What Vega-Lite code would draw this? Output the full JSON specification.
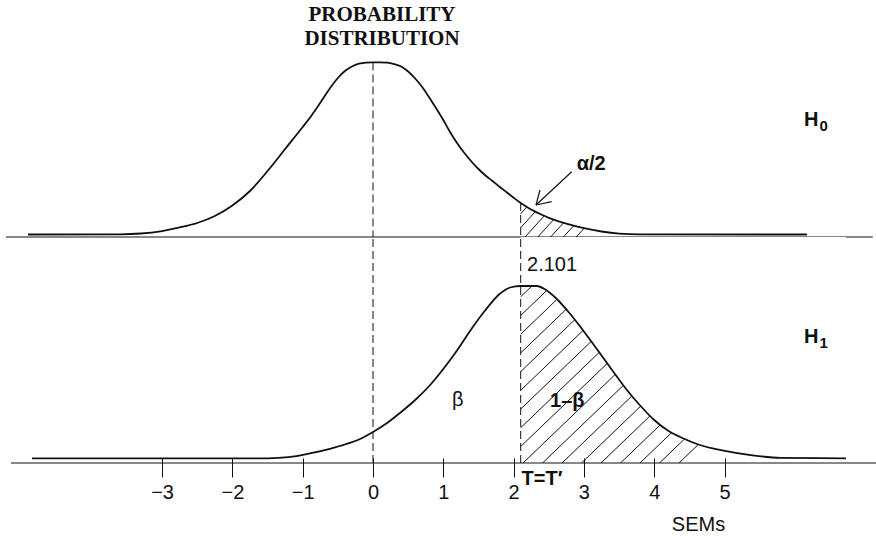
{
  "$schema": "https://vega.github.io/schema/vega-lite/v6.json",
  "padding": 0,
  "spacing": 0,
  "bounds": "flush",
  "background": "white",
  "config": {
    "view": {"stroke": null},
    "text": {"font": "Liberation Sans", "color": "#111", "baseline": "alphabetic", "align": "left"}
  },
  "datasets": {
    "h0Curve": [
      {"x": -4.907, "y": 0.0057}, {"x": -3.6, "y": 0.0062}, {"x": -3.3, "y": 0.008},
      {"x": -3.0, "y": 0.0137}, {"x": -2.75, "y": 0.0218}, {"x": -2.5, "y": 0.0321},
      {"x": -2.25, "y": 0.0481}, {"x": -2.0, "y": 0.0722}, {"x": -1.75, "y": 0.1054},
      {"x": -1.5, "y": 0.1512}, {"x": -1.25, "y": 0.2016}, {"x": -1.0, "y": 0.252},
      {"x": -0.9, "y": 0.2726}, {"x": -0.8, "y": 0.2955}, {"x": -0.7, "y": 0.3196},
      {"x": -0.6, "y": 0.3436}, {"x": -0.5, "y": 0.3643}, {"x": -0.4, "y": 0.3803},
      {"x": -0.3, "y": 0.3906}, {"x": -0.2, "y": 0.397}, {"x": -0.1, "y": 0.3995},
      {"x": 0.0, "y": 0.4}, {"x": 0.1, "y": 0.4}, {"x": 0.2, "y": 0.3993},
      {"x": 0.3, "y": 0.3963}, {"x": 0.4, "y": 0.3906}, {"x": 0.5, "y": 0.3792},
      {"x": 0.6, "y": 0.3631}, {"x": 0.7, "y": 0.3436}, {"x": 0.8, "y": 0.3196},
      {"x": 0.9, "y": 0.2944}, {"x": 1.0, "y": 0.268}, {"x": 1.1, "y": 0.2394},
      {"x": 1.2, "y": 0.2142}, {"x": 1.3, "y": 0.1924}, {"x": 1.4, "y": 0.173},
      {"x": 1.5, "y": 0.1558}, {"x": 1.6, "y": 0.1409}, {"x": 1.7, "y": 0.1283},
      {"x": 1.8, "y": 0.1152}, {"x": 1.9, "y": 0.1026}, {"x": 2.0, "y": 0.09},
      {"x": 2.101, "y": 0.0779}, {"x": 2.2, "y": 0.0676}, {"x": 2.3, "y": 0.0586},
      {"x": 2.4, "y": 0.0509}, {"x": 2.5, "y": 0.044}, {"x": 2.75, "y": 0.0305},
      {"x": 3.0, "y": 0.0202}, {"x": 3.25, "y": 0.0126}, {"x": 3.5, "y": 0.0078},
      {"x": 3.8, "y": 0.006}, {"x": 6.174, "y": 0.0057}
    ],
    "h1Curve": [
      {"x": -4.851, "y": 0.0105}, {"x": -1.5, "y": 0.0108}, {"x": -1.2, "y": 0.0133},
      {"x": -0.9, "y": 0.0218}, {"x": -0.6, "y": 0.0332}, {"x": -0.4, "y": 0.0424},
      {"x": -0.2, "y": 0.0538}, {"x": 0.0, "y": 0.071}, {"x": 0.2, "y": 0.0916},
      {"x": 0.4, "y": 0.1168}, {"x": 0.6, "y": 0.1443}, {"x": 0.8, "y": 0.1764},
      {"x": 1.0, "y": 0.2153}, {"x": 1.2, "y": 0.2589}, {"x": 1.4, "y": 0.307},
      {"x": 1.6, "y": 0.3505}, {"x": 1.8, "y": 0.3872}, {"x": 1.95, "y": 0.4021},
      {"x": 2.101, "y": 0.4055}, {"x": 2.33, "y": 0.4055}, {"x": 2.45, "y": 0.3975},
      {"x": 2.6, "y": 0.378}, {"x": 2.8, "y": 0.3425}, {"x": 3.0, "y": 0.3013},
      {"x": 3.2, "y": 0.2577}, {"x": 3.4, "y": 0.2131}, {"x": 3.6, "y": 0.1695},
      {"x": 3.8, "y": 0.1317}, {"x": 4.0, "y": 0.0985}, {"x": 4.2, "y": 0.0738},
      {"x": 4.4, "y": 0.0573}, {"x": 4.65, "y": 0.0412}, {"x": 4.95, "y": 0.0293},
      {"x": 5.4, "y": 0.0174}, {"x": 5.8, "y": 0.0119}, {"x": 6.728, "y": 0.0108}
    ],
    "hatchAlpha": [
      {"x": 2.101, "y": 0.0534, "x2": 2.27, "y2": 0.0833},
      {"x": 2.101, "y": 0.0212, "x2": 2.4, "y2": 0.0742},
      {"x": 2.1622, "y": 0, "x2": 2.52, "y2": 0.0634},
      {"x": 2.3442, "y": 0, "x2": 2.65, "y2": 0.0542},
      {"x": 2.5263, "y": 0, "x2": 2.8, "y2": 0.0485},
      {"x": 2.7084, "y": 0, "x2": 2.94, "y2": 0.041},
      {"x": 2.8905, "y": 0, "x2": 3.09, "y2": 0.0354}
    ],
    "hatchPower": [
      {"x": 2.101, "y": 0.3809, "x2": 2.38, "y2": 0.424},
      {"x": 2.101, "y": 0.338, "x2": 2.59, "y2": 0.4136},
      {"x": 2.101, "y": 0.2951, "x2": 2.74, "y2": 0.3939},
      {"x": 2.101, "y": 0.2522, "x2": 2.87, "y2": 0.3711},
      {"x": 2.101, "y": 0.2094, "x2": 2.99, "y2": 0.3468},
      {"x": 2.101, "y": 0.1665, "x2": 3.11, "y2": 0.3225},
      {"x": 2.101, "y": 0.1236, "x2": 3.23, "y2": 0.2981},
      {"x": 2.101, "y": 0.0807, "x2": 3.34, "y2": 0.2723},
      {"x": 2.101, "y": 0.0378, "x2": 3.45, "y2": 0.2464},
      {"x": 2.1337, "y": 0, "x2": 3.57, "y2": 0.2221},
      {"x": 2.4111, "y": 0, "x2": 3.68, "y2": 0.1962},
      {"x": 2.6885, "y": 0, "x2": 3.8, "y2": 0.1718},
      {"x": 2.9658, "y": 0, "x2": 3.93, "y2": 0.1491},
      {"x": 3.2432, "y": 0, "x2": 4.06, "y2": 0.1263},
      {"x": 3.5206, "y": 0, "x2": 4.21, "y2": 0.1066},
      {"x": 3.798, "y": 0, "x2": 4.37, "y2": 0.0884},
      {"x": 4.0754, "y": 0, "x2": 4.55, "y2": 0.0734},
      {"x": 4.3527, "y": 0, "x2": 4.75, "y2": 0.0614}
    ],
    "dashTop": [
      {"x": 0, "y": 0.4, "y2": 0},
      {"x": 2.101, "y": 0.0779, "y2": 0}
    ],
    "dashBottom": [
      {"x": 0, "y": 0, "y2": 0.5178},
      {"x": 2.101, "y": 0, "y2": 0.5178}
    ],
    "baselineTop": [{"x": -5.22, "x2": 7.11, "y": 0}],
    "baselineBottom": [{"x": -5.15, "x2": 7.155, "y": 0}],
    "arrow": [
      {"x": 2.826, "y": 0.1496, "x2": 2.319, "y2": 0.0733},
      {"x": 2.319, "y": 0.0733, "x2": 2.375, "y2": 0.1077},
      {"x": 2.319, "y": 0.0733, "x2": 2.542, "y2": 0.0809}
    ],
    "heading": [
      {"x": 0.128, "y": 0.4948, "text": "PROBABILITY"},
      {"x": 0.128, "y": 0.4399, "text": "DISTRIBUTION"}
    ],
    "topLetters": [{"x": 6.131, "y": 0.254, "text": "H"}],
    "topSubscript": [{"x": 6.35, "y": 0.2435, "text": "0"}],
    "alphaNote": [{"x": 2.898, "y": 0.1535, "text": "α/2"}],
    "bottomBold": [
      {"x": 6.131, "y": 0.2742, "text": "H"},
      {"x": 2.518, "y": 0.129, "text": "1–β"},
      {"x": 2.114, "y": -0.0504, "text": "T=T′"}
    ],
    "bottomSubscript": [{"x": 6.35, "y": 0.2635, "text": "1"}],
    "bottomPlain": [
      {"x": 2.191, "y": 0.4405, "text": "2.101"},
      {"x": 1.124, "y": 0.1306, "text": "β"}
    ]
  },
  "resolve": {"scale": {"x": "independent", "y": "independent"}},
  "vconcat": [
    {
      "width": 876,
      "height": 237,
      "encoding": {
        "x": {"field": "x", "type": "quantitative", "scale": {"domain": [-5.3058, 7.155], "nice": false, "zero": false}, "axis": null},
        "y": {"field": "y", "type": "quantitative", "scale": {"domain": [0, 0.543], "nice": false, "zero": false}, "axis": null}
      },
      "layer": [
        {
          "data": {"name": "hatchAlpha"},
          "mark": {"type": "rule", "color": "#111", "strokeWidth": 1, "clip": true},
          "encoding": {"x2": {"field": "x2"}, "y2": {"field": "y2"}}
        },
        {
          "data": {"name": "h0Curve"},
          "transform": [{"filter": "datum.x >= 2.101"}],
          "mark": {"type": "area", "orient": "vertical", "fill": "white", "interpolate": "monotone"},
          "encoding": {"y2": {"datum": 0.543}}
        },
        {
          "data": {"name": "h0Curve"},
          "mark": {"type": "line", "color": "#111", "strokeWidth": 1.8, "interpolate": "monotone"}
        },
        {
          "data": {"name": "dashTop"},
          "mark": {"type": "rule", "color": "#111", "strokeWidth": 1, "strokeDash": [8, 4]},
          "encoding": {"y2": {"field": "y2"}}
        },
        {
          "data": {"name": "baselineTop"},
          "mark": {"type": "rule", "color": "#111", "strokeWidth": 1},
          "encoding": {"x2": {"field": "x2"}}
        },
        {
          "data": {"name": "arrow"},
          "mark": {"type": "rule", "color": "#111", "strokeWidth": 1.2},
          "encoding": {"x2": {"field": "x2"}, "y2": {"field": "y2"}}
        },
        {
          "data": {"name": "heading"},
          "mark": {"type": "text", "font": "Liberation Serif", "fontWeight": "bold", "fontSize": 21, "align": "center"},
          "encoding": {"text": {"field": "text"}}
        },
        {
          "data": {"name": "topLetters"},
          "mark": {"type": "text", "fontWeight": "bold", "fontSize": 20},
          "encoding": {"text": {"field": "text"}}
        },
        {
          "data": {"name": "topSubscript"},
          "mark": {"type": "text", "fontWeight": "bold", "fontSize": 15},
          "encoding": {"text": {"field": "text"}}
        },
        {
          "data": {"name": "alphaNote"},
          "mark": {"type": "text", "fontWeight": "bold", "fontSize": 20},
          "encoding": {"text": {"field": "text"}}
        }
      ]
    },
    {
      "width": 876,
      "height": 226,
      "encoding": {
        "x": {
          "field": "x",
          "type": "quantitative",
          "scale": {"domain": [-5.3058, 7.155], "nice": false, "zero": false},
          "axis": {
            "values": [-3, -2, -1, 0, 1, 2, 3, 4, 5],
            "domain": false,
            "grid": false,
            "offset": -5,
            "tickSize": 19,
            "tickColor": "#111",
            "tickWidth": 1,
            "labelFont": "Liberation Sans",
            "labelFontSize": 20,
            "labelColor": "#111",
            "labelPadding": 5,
            "title": "SEMs",
            "titleFont": "Liberation Sans",
            "titleFontSize": 20,
            "titleFontWeight": "normal",
            "titleColor": "#111",
            "titleX": 698,
            "titleY": 72,
            "titleAlign": "center",
            "titleBaseline": "alphabetic"
          }
        },
        "y": {"field": "y", "type": "quantitative", "scale": {"domain": [0, 0.5178], "nice": false, "zero": false}, "axis": null}
      },
      "layer": [
        {
          "data": {"name": "hatchPower"},
          "mark": {"type": "rule", "color": "#111", "strokeWidth": 1, "clip": true},
          "encoding": {"x2": {"field": "x2"}, "y2": {"field": "y2"}}
        },
        {
          "data": {"name": "h1Curve"},
          "transform": [{"filter": "datum.x >= 2.101"}],
          "mark": {"type": "area", "orient": "vertical", "fill": "white", "interpolate": "monotone"},
          "encoding": {"y2": {"datum": 0.5178}}
        },
        {
          "data": {"name": "h1Curve"},
          "mark": {"type": "line", "color": "#111", "strokeWidth": 1.8, "interpolate": "monotone"}
        },
        {
          "data": {"name": "dashBottom"},
          "mark": {"type": "rule", "color": "#111", "strokeWidth": 1, "strokeDash": [8, 4]},
          "encoding": {"y2": {"field": "y2"}}
        },
        {
          "data": {"name": "baselineBottom"},
          "mark": {"type": "rule", "color": "#111", "strokeWidth": 1},
          "encoding": {"x2": {"field": "x2"}}
        },
        {
          "data": {"name": "bottomBold"},
          "mark": {"type": "text", "fontWeight": "bold", "fontSize": 20},
          "encoding": {"text": {"field": "text"}}
        },
        {
          "data": {"name": "bottomSubscript"},
          "mark": {"type": "text", "fontWeight": "bold", "fontSize": 15},
          "encoding": {"text": {"field": "text"}}
        },
        {
          "data": {"name": "bottomPlain"},
          "mark": {"type": "text", "fontSize": 20},
          "encoding": {"text": {"field": "text"}}
        }
      ]
    }
  ]
}
